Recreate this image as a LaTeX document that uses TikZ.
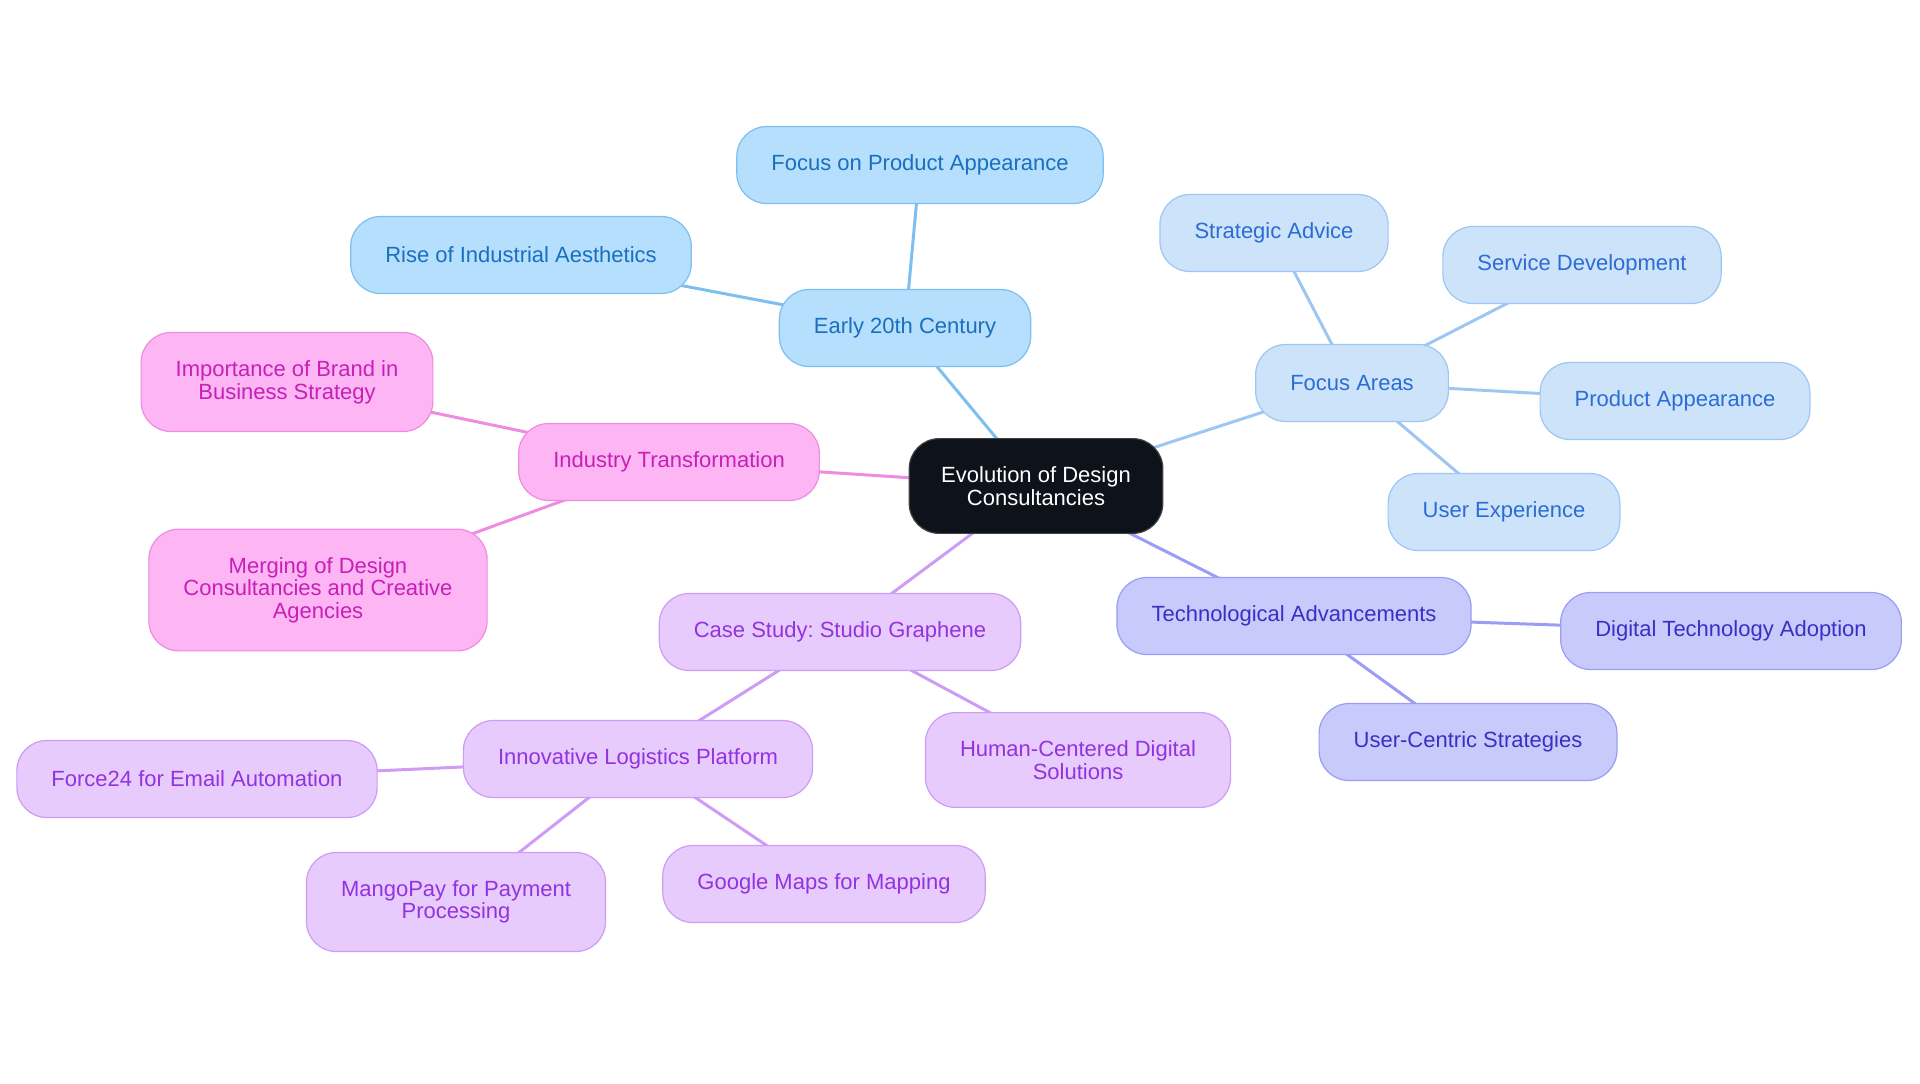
\documentclass[tikz,border=0pt]{standalone}
\usepackage{fontspec}
\setmainfont{Liberation Sans}
\frenchspacing
\usetikzlibrary{backgrounds}

\definecolor{rootfill}{HTML}{0D121B}
\definecolor{skyfill}{HTML}{B5DFFC}
\definecolor{skyline}{HTML}{7DBFEF}
\definecolor{skytext}{HTML}{1A6FBF}
\definecolor{palefill}{HTML}{CDE3FA}
\definecolor{paleline}{HTML}{9EC6F2}
\definecolor{paletext}{HTML}{2B6DD4}
\definecolor{pinkfill}{HTML}{FDB5F4}
\definecolor{pinkline}{HTML}{EE8CE0}
\definecolor{pinktext}{HTML}{C620B8}
\definecolor{lilacfill}{HTML}{E6CBFC}
\definecolor{lilacline}{HTML}{CE9BF5}
\definecolor{lilactext}{HTML}{9333E0}
\definecolor{indigofill}{HTML}{C9CAFC}
\definecolor{indigoline}{HTML}{9A9CF5}
\definecolor{indigotext}{HTML}{3730C4}

\begin{document}
\begin{tikzpicture}[x=0.5pt,y=-0.5pt,
    topic/.style={rectangle, rounded corners=15pt, draw, line width=0.6pt,
      align=center, inner xsep=17.3pt, inner ysep=14pt, minimum height=38.5pt,
      font=\fontsize{11}{11.3}\selectfont},
    roottopic/.style={topic, fill=rootfill, draw=black!75, text=white, inner xsep=16pt},
    skytopic/.style={topic, fill=skyfill, draw=skyline, text=skytext},
    paletopic/.style={topic, fill=palefill, draw=paleline, text=paletext},
    pinktopic/.style={topic, fill=pinkfill, draw=pinkline, text=pinktext},
    lilactopic/.style={topic, fill=lilacfill, draw=lilacline, text=lilactext},
    indigotopic/.style={topic, fill=indigofill, draw=indigoline, text=indigotext},
    link/.style={line width=1.5pt}]
    \useasboundingbox (0,0) rectangle (1920,1083);

    % centre
    \node[roottopic] (root) at (1036,486) {Evolution of Design\\Consultancies};

    % early 20th century
    \node[skytopic] (early) at (905,328) {Early 20th Century};
    \node[skytopic] (appear) at (920,165) {Focus on Product Appearance};
    \node[skytopic] (rise) at (521,255) {Rise of Industrial Aesthetics};

    % focus areas
    \node[paletopic] (focus) at (1352,383) {Focus Areas};
    \node[paletopic] (advice) at (1274,233) {Strategic Advice};
    \node[paletopic] (service) at (1582,265) {Service Development};
    \node[paletopic] (product) at (1675,401) {Product Appearance};
    \node[paletopic] (ux) at (1504,512) {User Experience};

    % industry transformation
    \node[pinktopic] (industry) at (669,462) {Industry Transformation};
    \node[pinktopic] (brand) at (287,382) {Importance of Brand in\\Business Strategy};
    \node[pinktopic] (merging) at (318,590) {Merging of Design\\Consultancies and Creative\\Agencies};

    % case study
    \node[lilactopic] (casestudy) at (840,632) {Case Study: Studio Graphene};
    \node[lilactopic] (human) at (1078,760) {Human-Centered Digital\\Solutions};
    \node[lilactopic] (logistics) at (638,759) {Innovative Logistics Platform};
    \node[lilactopic] (force) at (197,779) {Force24 for Email Automation};
    \node[lilactopic] (mangopay) at (456,902) {MangoPay for Payment\\Processing};
    \node[lilactopic] (maps) at (824,884) {Google Maps for Mapping};

    % technology
    \node[indigotopic] (tech) at (1294,616) {Technological Advancements};
    \node[indigotopic] (digital) at (1731,631) {Digital Technology Adoption};
    \node[indigotopic] (usercentric) at (1468,742) {User-Centric Strategies};

    \begin{scope}[on background layer]
      \draw[link, skyline] (root.center) -- (early.center);
      \draw[link, skyline] (early.center) -- (appear.center);
      \draw[link, skyline] (early.center) -- (rise.center);
      \draw[link, paleline] (root.center) -- (focus.center);
      \foreach \leaf in {advice, service, product, ux}
        \draw[link, paleline] (focus.center) -- (\leaf.center);
      \draw[link, pinkline] (root.center) -- (industry.center);
      \draw[link, pinkline] (industry.center) -- (brand.center);
      \draw[link, pinkline] (industry.center) -- (merging.center);
      \draw[link, lilacline] (root.center) -- (casestudy.center);
      \draw[link, lilacline] (casestudy.center) -- (human.center);
      \draw[link, lilacline] (casestudy.center) -- (logistics.center);
      \foreach \leaf in {force, mangopay, maps}
        \draw[link, lilacline] (logistics.center) -- (\leaf.center);
      \draw[link, indigoline] (root.center) -- (tech.center);
      \draw[link, indigoline] (tech.center) -- (digital.center);
      \draw[link, indigoline] (tech.center) -- (usercentric.center);
    \end{scope}
\end{tikzpicture}
\end{document}
